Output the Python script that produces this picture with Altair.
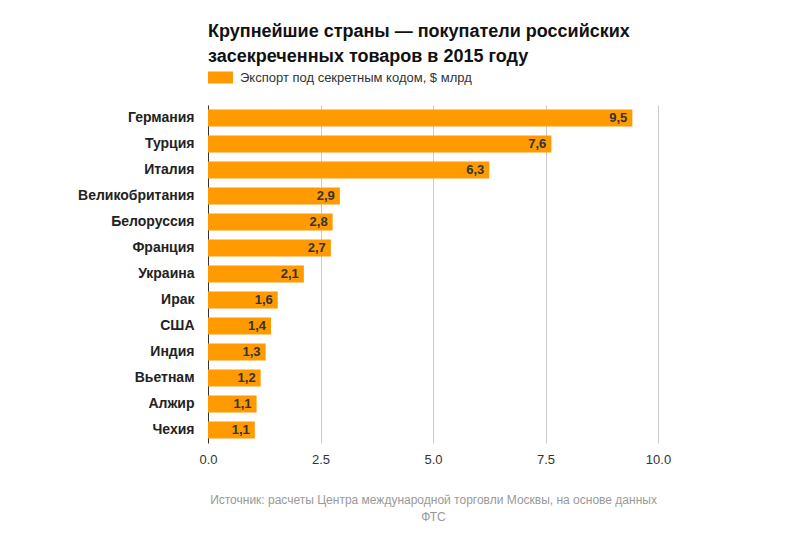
import altair as alt
import pandas as pd

countries = ["Германия", "Турция", "Италия", "Великобритания", "Белоруссия", "Франция",
             "Украина", "Ирак", "США", "Индия", "Вьетнам", "Алжир", "Чехия"]
values = [9.43, 7.63, 6.25, 2.93, 2.77, 2.73, 2.13, 1.55, 1.40, 1.28, 1.17, 1.08, 1.04]
labels = ["9,5", "7,6", "6,3", "2,9", "2,8", "2,7", "2,1", "1,6", "1,4", "1,3", "1,2", "1,1", "1,1"]
series_name = "Экспорт под секретным кодом, $ млрд"
title_lines = ["Крупнейшие страны — покупатели российских", "засекреченных товаров в 2015 году"]
source_lines = ["Источник: расчеты Центра международной торговли Москвы, на основе данных", "ФТС"]
x_ticks = [0, 2.5, 5, 7.5, 10]

df = pd.DataFrame({"country": countries, "value": values, "label": labels,
                   "series": [series_name] * len(countries)})

FONT = "Liberation Sans"

y_enc = alt.Y("country:N", sort=countries,
              scale=alt.Scale(paddingInner=0.36, paddingOuter=0.18),
              axis=alt.Axis(title=None, ticks=False, domain=True, domainColor="#333333",
                            domainWidth=1, labelFont=FONT, labelFontSize=14,
                            labelFontWeight="bold", labelColor="#222222", labelPadding=14,
                            grid=False))

bars = alt.Chart(df).mark_bar(size=17).encode(
    x=alt.X("value:Q", scale=alt.Scale(domain=[0, 10], nice=False),
            axis=alt.Axis(values=x_ticks, format=".1f", grid=True, gridColor="#cccccc",
                          domain=False, ticks=False, labelFont=FONT, labelFontSize=13,
                          labelColor="#333333", labelPadding=10, labelFlush=False,
                          title=source_lines, titleFont=FONT, titleFontSize=12,
                          titleFontWeight="normal", titleColor="#999999",
                          titlePadding=28, titleLineHeight=17)),
    y=y_enc,
    color=alt.Color("series:N", scale=alt.Scale(range=["#ff9a00"]),
                    legend=alt.Legend(title=None, orient="none", legendX=0, legendY=-40,
                                      symbolType="M-1,-0.48H1V0.48H-1Z", symbolSize=625,
                                      symbolStrokeWidth=0, symbolOpacity=1,
                                      labelFont=FONT, labelFontSize=13, labelColor="#333333",
                                      labelOffset=7, labelLimit=600, padding=0)),
)

text = alt.Chart(df).mark_text(align="right", baseline="middle", dx=-5, font=FONT,
                               fontSize=13, fontWeight="bold", color="#333333").encode(
    x="value:Q",
    y=alt.Y("country:N", sort=countries),
    text="label:N",
)

chart = alt.layer(bars, text).properties(
    width=450, height=338,
    title=alt.TitleParams(text=title_lines, anchor="start", frame="group", font=FONT,
                          fontSize=18, fontWeight="bold", color="#111111", lineHeight=25,
                          offset=-1),
    autosize=alt.AutoSizeParams(type="none"),
    padding={"left": 200, "top": 97, "right": 130, "bottom": 86},
).configure_view(stroke=None)

chart.save("out.html", embed_options={"renderer": "svg", "actions": False})
